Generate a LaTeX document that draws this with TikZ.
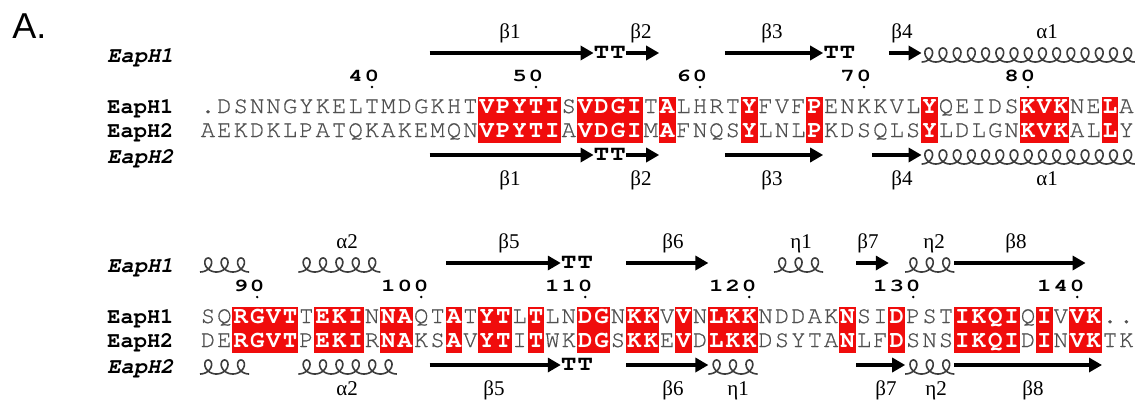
\documentclass[tikz,border=0pt]{standalone}
\usepackage{fontspec}
\setmainfont{Liberation Serif}
\newfontfamily\panelfont{Liberation Sans}
\IfFontExistsTF{texgyrecursor-regular.otf}{%
  \newfontfamily\cur{texgyrecursor}[Extension=.otf,UprightFont=*-regular,
    BoldFont=*-bold,ItalicFont=*-italic,BoldItalicFont=*-bolditalic]%
  \newfontfamily\curres{texgyrecursor-regular.otf}[FakeBold=0.5]}{%
  \newfontfamily\cur{Liberation Mono}%
  \newfontfamily\curres{Liberation Mono}}
\usetikzlibrary{arrows.meta}
\pgfdeclarelayer{bg}
\pgfsetlayers{bg,main}

\definecolor{boxred}{RGB}{240,12,12}
\definecolor{resgray}{RGB}{80,80,80}
\definecolor{helixgray}{RGB}{60,60,60}

% one residue: lower case marks a strictly conserved column (red box, white bold letter)
\newcommand\putres[5]{%
  \pgfmathsetmacro\xx{208+(#2-1)*16.4}%
  \ifnum\lccode`#1=`#1\relax
    \begin{pgfonlayer}{bg}
      \fill[boxred] ({\xx-8.45},{97+#4}) rectangle ({\xx+8.45},{143+#4});
    \end{pgfonlayer}
    \node[resbox] (#5-#2) at (\xx,#3) {\uppercase{#1}};%
  \else
    \node[res] (#5-#2) at (\xx,#3) {#1};%
  \fi}
% a full sequence row: #1 name prefix, #2 baseline, #3 block offset, #4 residues
\newcommand\seqrow[4]{%
  \foreach \ch [count=\i] in {#4} {\expandafter\putres\expandafter{\ch}{\i}{#2}{#3}{#1}}}

% residue number: #1 column of the last digit, #2 digits, #3 block offset, #4 name
\newcommand\resnum[4]{%
  \foreach \d [count=\k] in {#2} {\xdef\ndig{\k}}%
  \foreach \d [count=\k] in {#2} {%
    \pgfmathsetmacro\xx{208+(#1-1-\ndig+\k)*16.4}%
    \node[numsty] (#4-\k) at (\xx,{81+#3}) {\scalebox{1.35}[1]{\d}};}%
  \fill ({208+(#1-1)*16.4},{87+#3}) circle (1.3);}

% beta strand arrow from column #1 to column #2 at height #3
\newcommand\strand[4]{%
  \coordinate (#4-s) at ({200+(#1-1)*16.4},#3);
  \coordinate (#4-e) at ({200+#2*16.4},#3);
  \draw[strandline] (#4-s) -- (#4-e);}

% helix: columns #1..#2, #3 turns, baseline #4
\newcommand\helix[5]{%
  \pgfmathsetmacro\hxa{200+(#1-1)*16.4}%
  \pgfmathsetmacro\hxb{200+(#2)*16.4}%
  \pgfmathsetmacro\ha{(\hxb-\hxa)/(2*pi*#3)}%
  \pgfmathsetmacro\tmax{2*pi*#3}%
  \pgfmathtruncatemacro\ns{40*#3}%
  \coordinate (#5-s) at (\hxa,#4);
  \coordinate (#5-e) at (\hxb,#4);
  \draw[helixline] plot[domain=0:\tmax, samples=\ns]
    ({\hxa+\ha*\x+7*sin(\x r)}, {#4-7+7*cos(\x r)});}

% strict beta turn "TT" on columns #1 and #1+1
\newcommand\turn[3]{%
  \node[turnsty] (#3-a) at ({208+(#1-1)*16.4},#2) {\scalebox{1.25}[1]{T}};
  \node[turnsty] (#3-b) at ({208+#1*16.4},#2) {\scalebox{1.25}[1]{T}};}

\begin{document}
\begin{tikzpicture}[x=0.5pt,y=-0.5pt,
  res/.style={anchor=base,inner sep=0pt,text=resgray,font=\curres\fontsize{12}{13}\selectfont},
  resbox/.style={anchor=base,inner sep=0pt,text=white,font=\cur\bfseries\fontsize{12}{13}\selectfont},
  seqname/.style={anchor=base west,inner sep=0pt,font=\cur\bfseries\fontsize{11}{12}\selectfont},
  secname/.style={anchor=base west,inner sep=0pt,font=\cur\bfseries\itshape\fontsize{11}{12}\selectfont},
  numsty/.style={anchor=base,inner sep=0pt,font=\cur\bfseries\fontsize{9}{10}\selectfont},
  turnsty/.style={anchor=base,inner sep=0pt,font=\cur\bfseries\fontsize{10.5}{11}\selectfont},
  sslab/.style={anchor=base,inner sep=0pt,font=\fontsize{10.5}{12}\selectfont},
  strandline/.style={line width=2pt,-{Triangle[length=6.5pt,width=7pt]}},
  helixline/.style={draw=helixgray,line width=0.8pt,line join=round}]

\begin{pgfonlayer}{bg}
  \fill[white] (0,0) rectangle (1144,407);
\end{pgfonlayer}
\useasboundingbox (0,0) rectangle (1144,407);

\node[anchor=base west,inner sep=0pt,font=\panelfont\fontsize{18}{20}\selectfont] (panel) at (12,38) {A.};

% ---------------- block 1: residues 30-86 ----------------
\node[secname] (b1top) at (107,62) {EapH1};
\node[seqname] (b1n1) at (107,113) {EapH1};
\node[seqname] (b1n2) at (107,137) {EapH2};
\node[secname] (b1bot) at (107,163) {EapH2};

\strand{15}{24}{53}{b1t-s1}
\turn{25}{58}{b1t-t1}
\strand{27}{28}{53}{b1t-s2}
\strand{33}{38}{53}{b1t-s3}
\turn{39}{58}{b1t-t2}
\strand{43}{44}{53}{b1t-s4}
\helix{45}{57}{15}{62}{b1t-h1}
\node[sslab] (b1t-l1) at (510,38) {β1};
\node[sslab] (b1t-l2) at (641,38) {β2};
\node[sslab] (b1t-l3) at (772,38) {β3};
\node[sslab] (b1t-l4) at (902,38) {β4};
\node[sslab] (b1t-l5) at (1047,38) {α1};

\resnum{11}{4,0}{0}{b1-n40}
\resnum{21}{5,0}{0}{b1-n50}
\resnum{31}{6,0}{0}{b1-n60}
\resnum{41}{7,0}{0}{b1-n70}
\resnum{51}{8,0}{0}{b1-n80}

\seqrow{b1r1}{113}{0}{.,D,S,N,N,G,Y,K,E,L,T,M,D,G,K,H,T,v,p,y,t,i,S,v,d,g,i,T,a,L,H,R,T,y,F,V,F,p,E,N,K,K,V,L,y,Q,E,I,D,S,k,v,k,N,E,l,A}
\seqrow{b1r2}{137}{0}{A,E,K,D,K,L,P,A,T,Q,K,A,K,E,M,Q,N,v,p,y,t,i,A,v,d,g,i,M,a,F,N,Q,S,y,L,N,L,p,K,D,S,Q,L,S,y,L,D,L,G,N,k,v,k,A,L,l,Y}

\strand{15}{24}{155}{b1b-s1}
\turn{25}{160}{b1b-t1}
\strand{27}{28}{155}{b1b-s2}
\strand{33}{38}{155}{b1b-s3}
\strand{42}{44}{155}{b1b-s4}
\helix{45}{57}{15}{164}{b1b-h1}
\node[sslab] (b1b-l1) at (510,185) {β1};
\node[sslab] (b1b-l2) at (641,185) {β2};
\node[sslab] (b1b-l3) at (772,185) {β3};
\node[sslab] (b1b-l4) at (902,185) {β4};
\node[sslab] (b1b-l5) at (1047,185) {α1};

% ---------------- block 2: residues 87-143 ----------------
\node[secname] (b2top) at (107,272) {EapH1};
\node[seqname] (b2n1) at (107,323) {EapH1};
\node[seqname] (b2n2) at (107,347) {EapH2};
\node[secname] (b2bot) at (107,373) {EapH2};

\helix{1}{3}{3}{272}{b2t-h0}
\helix{7}{11}{5}{272}{b2t-h2}
\strand{16}{22}{263}{b2t-s5}
\turn{23}{268}{b2t-t1}
\strand{27}{31}{263}{b2t-s6}
\helix{36}{38}{3}{272}{b2t-e1}
\strand{41}{42}{263}{b2t-s7}
\helix{44}{46}{3}{272}{b2t-e2}
\strand{47}{54}{263}{b2t-s8}
\node[sslab] (b2t-l2) at (347,248) {α2};
\node[sslab] (b2t-l5) at (509,248) {β5};
\node[sslab] (b2t-l6) at (673,248) {β6};
\node[sslab] (b2t-e1l) at (801,248) {η1};
\node[sslab] (b2t-l7) at (868,248) {β7};
\node[sslab] (b2t-e2l) at (934,248) {η2};
\node[sslab] (b2t-l8) at (1016,248) {β8};

\resnum{4}{9,0}{210}{b2-n90}
\resnum{14}{1,0,0}{210}{b2-n100}
\resnum{24}{1,1,0}{210}{b2-n110}
\resnum{34}{1,2,0}{210}{b2-n120}
\resnum{44}{1,3,0}{210}{b2-n130}
\resnum{54}{1,4,0}{210}{b2-n140}

\seqrow{b2r1}{323}{210}{S,Q,r,g,v,t,T,e,k,i,N,n,a,Q,T,a,T,y,t,L,t,L,N,d,g,N,k,k,V,v,N,l,k,k,N,D,D,A,K,n,S,I,d,P,S,T,i,k,q,i,Q,i,V,v,k,.,.}
\seqrow{b2r2}{347}{210}{D,E,r,g,v,t,P,e,k,i,R,n,a,K,S,a,V,y,t,I,t,W,K,d,g,S,k,k,E,v,D,l,k,k,D,S,Y,T,A,n,L,F,d,S,N,S,i,k,q,i,D,i,N,v,k,T,K}

\helix{1}{3}{3}{374}{b2b-h0}
\helix{7}{12}{6}{374}{b2b-h2}
\strand{15}{22}{365}{b2b-s5}
\turn{23}{370}{b2b-t1}
\strand{27}{31}{365}{b2b-s6}
\helix{32}{34}{3}{374}{b2b-e1}
\strand{41}{43}{365}{b2b-s7}
\helix{44}{46}{3}{374}{b2b-e2}
\strand{47}{55}{365}{b2b-s8}
\node[sslab] (b2b-l2) at (347,395) {α2};
\node[sslab] (b2b-l5) at (494,395) {β5};
\node[sslab] (b2b-l6) at (673,395) {β6};
\node[sslab] (b2b-e1l) at (738,395) {η1};
\node[sslab] (b2b-l7) at (886,395) {β7};
\node[sslab] (b2b-e2l) at (936,395) {η2};
\node[sslab] (b2b-l8) at (1033,395) {β8};
\end{tikzpicture}
\end{document}
